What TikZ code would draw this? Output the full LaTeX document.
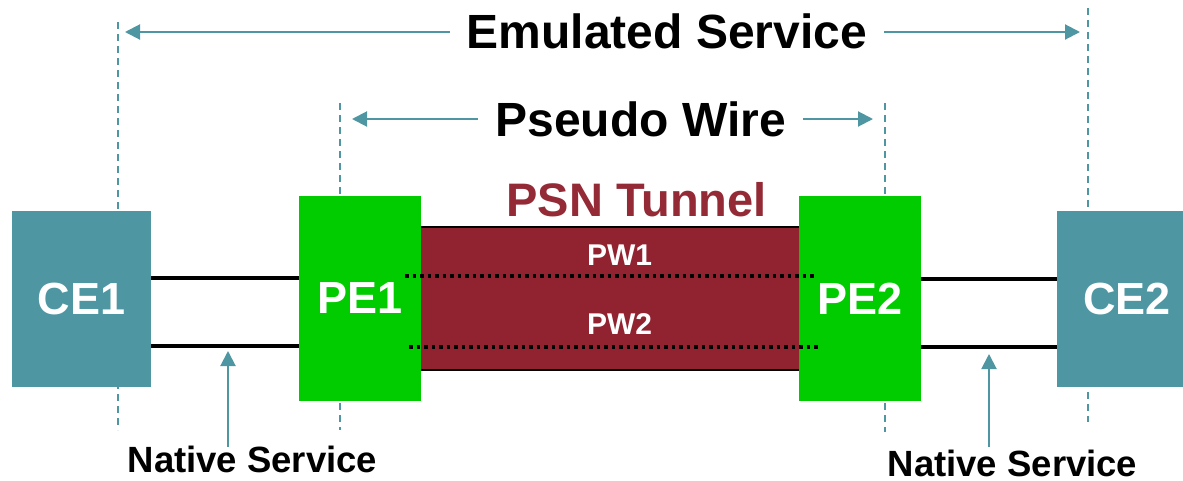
\documentclass[tikz,border=0pt]{standalone}
\usepackage{fontspec}
\setmainfont{Liberation Sans}
\usetikzlibrary{arrows.meta}
\definecolor{cteal}{HTML}{4E97A2}
\definecolor{cgreen}{HTML}{00CC00}
\definecolor{cred}{HTML}{912230}
\definecolor{cpsn}{HTML}{932A36}
\begin{document}
\begin{tikzpicture}[x=1pt,y=-1pt,
  box/.style={rectangle, inner sep=0pt, draw=none, text=white, font=\fontsize{45}{47}\selectfont\bfseries},
  cebox/.style={box, fill=cteal, minimum width=139pt, minimum height=176pt},
  pebox/.style={box, fill=cgreen, minimum width=122pt, minimum height=205pt},
  guide/.style={cteal, line width=2.2pt, dash pattern=on 7pt off 5pt},
  arr/.style={cteal, line width=2pt, -{Triangle[length=15pt,width=15pt]}},
  wire/.style={black, line width=3.2pt},
  pwline/.style={black, line width=3.6pt, dash pattern=on 3.7pt off 3.8pt},
  big/.style={font=\fontsize{48}{50}\selectfont\bfseries, inner sep=0pt},
  lbl/.style={font=\fontsize{36.5}{38}\selectfont\bfseries, inner sep=0pt},
  pwlbl/.style={font=\fontsize{30}{32}\selectfont\bfseries, text=white, inner sep=0pt},
]
\clip (0,0) rectangle (1183,480);
\fill[white] (0,0) rectangle (1183,480);

% vertical guides
\coordinate (g1t) at (118,22);  \coordinate (g1b) at (118,430);
\coordinate (g2t) at (340,103); \coordinate (g2b) at (340,430);
\coordinate (g3t) at (885,103); \coordinate (g3b) at (885,432);
\coordinate (g4t) at (1088,8);  \coordinate (g4b) at (1088,422);
\draw[guide] (g1t) -- (g1b);
\draw[guide] (g2t) -- (g2b);
\draw[guide] (g3t) -- (g3b);
\draw[guide] (g4t) -- (g4b);

% tunnel
\node[fill=cred, minimum width=378pt, minimum height=143pt, inner sep=0pt] (tunnel) at (610,298.5) {};
\draw[line width=2.5pt] (tunnel.north west) -- (tunnel.north east);
\draw[line width=2.5pt] (tunnel.south west) -- (tunnel.south east);

% boxes
\node[cebox] (CE1) at (81.5,299) {CE1};
\node[pebox] (PE1) at (360,298.5) {PE1};
\node[pebox] (PE2) at (860,298.5) {PE2};
\node[cebox, minimum width=140pt] (CE2) at (1127,299) {CE2};

% native wires
\draw[wire] ([yshift=21pt]CE1.east) -- ([yshift=21pt]PE1.west |- CE1.east);
\draw[wire] ([yshift=-47pt]CE1.east) -- ([yshift=-47pt]PE1.west |- CE1.east);
\draw[wire] ([yshift=19.5pt]PE2.east) -- ([yshift=19.5pt]CE2.west |- PE2.east);
\draw[wire] ([yshift=-48.5pt]PE2.east) -- ([yshift=-48.5pt]CE2.west |- PE2.east);

% pseudo wires
\coordinate (pw1a) at (405,276); \coordinate (pw1b) at (816,276);
\coordinate (pw2a) at (409,347); \coordinate (pw2b) at (821,347);
\draw[pwline] (pw1a) -- (pw1b);
\draw[pwline] (pw2a) -- (pw2b);
\node[pwlbl, anchor=base] (PW1) at (619.5,265) {PW1};
\node[pwlbl, anchor=base] (PW2) at (619.5,334) {PW2};

% titles
\node[big, text=cpsn, font=\fontsize{47}{49}\selectfont\bfseries, anchor=base] (PSN) at (636.5,216) {PSN Tunnel};

\node[big, anchor=base, inner xsep=17pt] (ES) at (667,48) {Emulated Service};
\coordinate (esl) at (125,32); \coordinate (esr) at (1080,32);
\draw[arr] (ES.west |- esl) -- (esl);
\draw[arr] (ES.east |- esr) -- (esr);

\node[big, anchor=base, inner xsep=17pt] (PWT) at (640.5,136) {Pseudo Wire};
\coordinate (pwl) at (352,119); \coordinate (pwr) at (873,119);
\draw[arr] (PWT.west |- pwl) -- (pwl);
\draw[arr] (PWT.east |- pwr) -- (pwr);

% native service labels
\node[lbl, anchor=base] (NS1) at (252.5,472) {Native Service};
\node[lbl, anchor=base] (NS2) at (1012.5,476) {Native Service};
\coordinate (n1a) at (228,447); \coordinate (n1b) at (228,351);
\coordinate (n2a) at (989,447); \coordinate (n2b) at (989,354);
\draw[arr] (n1a) -- (n1b);
\draw[arr] (n2a) -- (n2b);
\end{tikzpicture}
\end{document}
